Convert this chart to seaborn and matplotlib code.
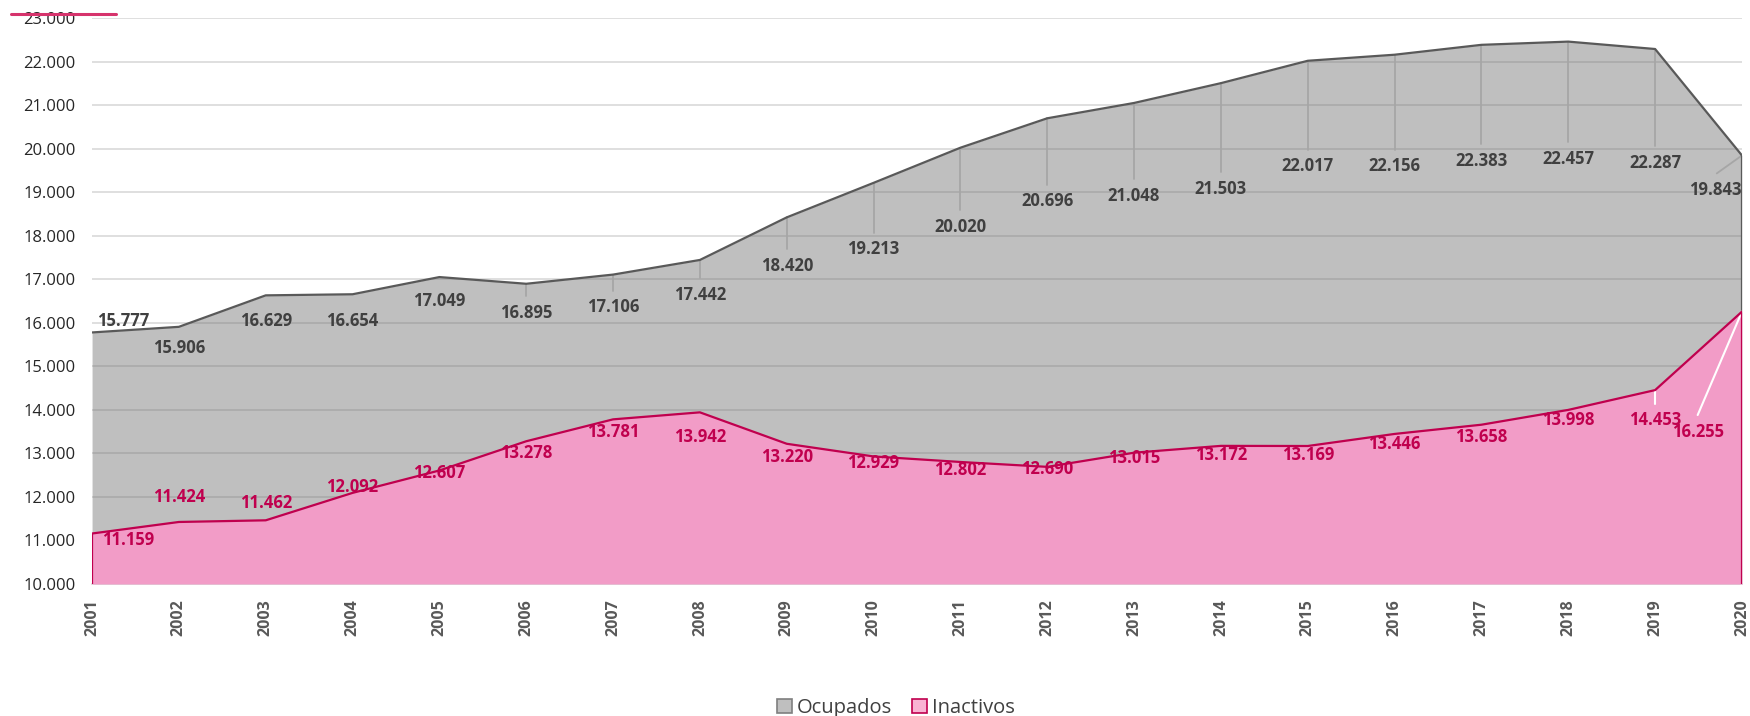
import matplotlib
matplotlib.use("Agg")
import matplotlib.pyplot as plt
import seaborn as sns
import pandas as pd
from matplotlib.lines import Line2D
from matplotlib.patches import Patch

years = list(range(2001, 2021))
ocupados = [15777, 15906, 16629, 16654, 17049, 16895, 17106, 17442, 18420, 19213,
            20020, 20696, 21048, 21503, 22017, 22156, 22383, 22457, 22287, 19843]
inactivos = [11159, 11424, 11462, 12092, 12607, 13278, 13781, 13942, 13220, 12929,
             12802, 12690, 13015, 13172, 13169, 13446, 13658, 13998, 14453, 16255]

# label positions (y, in thousands)
lab_y_ocu = [16.05, 15.41, 16.05, 16.05, 16.49, 16.23, 16.36, 16.64, 17.31, 17.69,
             18.21, 18.79, 18.92, 19.08, 19.59, 19.59, 19.72, 19.77, 19.67, 19.05]
lab_y_ina = [11.00, 12.00, 11.85, 12.23, 12.56, 13.00, 13.49, 13.38, 12.92, 12.77,
             12.62, 12.64, 12.90, 12.97, 12.97, 13.21, 13.38, 13.77, 13.77, 13.49]

GREY_FILL = "#717171"
GREY_LINE = "#595959"
PINK_FILL = "#f29cc7"
PINK_LINE = "#c0004e"
LBL = 12

df = pd.DataFrame({"year": years, "Ocupados": [v / 1000 for v in ocupados],
                   "Inactivos": [v / 1000 for v in inactivos]})

sns.set_theme(style="white")
plt.rcParams["font.family"] = ["Open Sans", "DejaVu Sans"]

fig = plt.figure(figsize=(17.5, 7.16), dpi=100)
ax = fig.add_axes([0.0526, 0.1844, 0.9428, 0.7905])

ax.set_ylim(10, 23)
ax.set_xlim(2001, 2020)
ax.set_yticks(range(10, 24))
ax.set_yticklabels([f"{v}.000" for v in range(10, 24)], fontsize=12, color="#262626")
ax.grid(axis="y", color="#d9d9d9", linewidth=1.2, zorder=0)
ax.set_axisbelow(True)

ax.fill_between(df["year"], 10, df["Ocupados"], color=GREY_FILL, alpha=0.45, lw=0, zorder=1)
sns.lineplot(data=df, x="year", y="Ocupados", color=GREY_LINE, lw=1.6, ax=ax, zorder=3)
ax.plot([2020, 2020], [10, ocupados[-1] / 1000], color=GREY_LINE, lw=1.6, zorder=3)

# grey leaders and labels
for i, yr in enumerate(years):
    v = ocupados[i] / 1000
    ly = lab_y_ocu[i]
    txt = f"{ocupados[i] // 1000}.{ocupados[i] % 1000:03d}"
    if yr == 2001:
        ax.text(2001.06, ly, txt, ha="left", va="center", fontsize=LBL, fontweight="bold",
                color="#404040", zorder=6)
        continue
    if yr == 2020:
        ax.plot([2020, 2019.71], [v, 19.43], color="#a6a6a6", lw=1.3, zorder=2)
        ax.text(2019.99, ly, txt, ha="right", va="center", fontsize=LBL, fontweight="bold",
                color="#404040", zorder=6)
        continue
    if v - (ly + 0.38) > 0.25:
        ax.plot([yr, yr], [v, ly + 0.38], color="#a6a6a6", lw=1.3, zorder=2)
    ax.text(yr, ly, txt, ha="center", va="center", fontsize=LBL, fontweight="bold",
            color="#404040", zorder=6)

ax.fill_between(df["year"], 10, df["Inactivos"], color=PINK_FILL, lw=0, zorder=4)
sns.lineplot(data=df, x="year", y="Inactivos", color=PINK_LINE, lw=1.6, ax=ax, zorder=5)
ax.plot([2020, 2020], [10, inactivos[-1] / 1000], color=PINK_LINE, lw=1.6, zorder=5)
ax.plot([2001, 2001], [10, inactivos[0] / 1000], color=PINK_LINE, lw=1.6, zorder=5)

for i, yr in enumerate(years):
    v = inactivos[i] / 1000
    ly = lab_y_ina[i]
    txt = f"{inactivos[i] // 1000}.{inactivos[i] % 1000:03d}"
    x = yr
    ha = "center"
    if yr == 2001:
        x, ha = 2001.12, "left"
    if yr == 2019:
        ax.plot([yr, yr], [v, 14.13], color="white", lw=1.5, zorder=4.5)
    if yr == 2020:
        x = 2019.49
        ax.plot([2020, 2019.49], [v, 13.88], color="white", lw=1.5, zorder=4.5)
    ax.text(x, ly, txt, ha=ha, va="center", fontsize=LBL, fontweight="bold",
            color=PINK_LINE, zorder=4.8)

ax.set_xticks(years)
ax.set_xticklabels([str(y) for y in years], rotation=90, fontsize=11.5,
                   fontweight="bold", color="#595959")
ax.tick_params(axis="x", length=5, color="#d9d9d9", width=1.2, pad=6)
ax.tick_params(axis="y", length=0, pad=12)
ax.set_xlabel("")
ax.set_ylabel("")
for s in ["top", "right", "left"]:
    ax.spines[s].set_visible(False)
ax.spines["bottom"].set_color("#d9d9d9")
ax.spines["bottom"].set_linewidth(1.2)

# small accent line top-left
fig.add_artist(Line2D([0.006, 0.066], [0.981, 0.981], color="#d6336c", lw=2.2))

handles = [Patch(facecolor="#bfbfbf", edgecolor="#7f7f7f", lw=1.2, label="Ocupados"),
           Patch(facecolor="#f9b3d3", edgecolor=PINK_LINE, lw=1.2, label="Inactivos")]
fig.legend(handles=handles, loc="lower center", bbox_to_anchor=(0.512, -0.028), ncol=2,
           frameon=False, fontsize=14.5, handlelength=0.75, handleheight=0.75,
           handletextpad=0.25, columnspacing=1.0, labelcolor="#404040")

fig.savefig("out.png", dpi=100)
